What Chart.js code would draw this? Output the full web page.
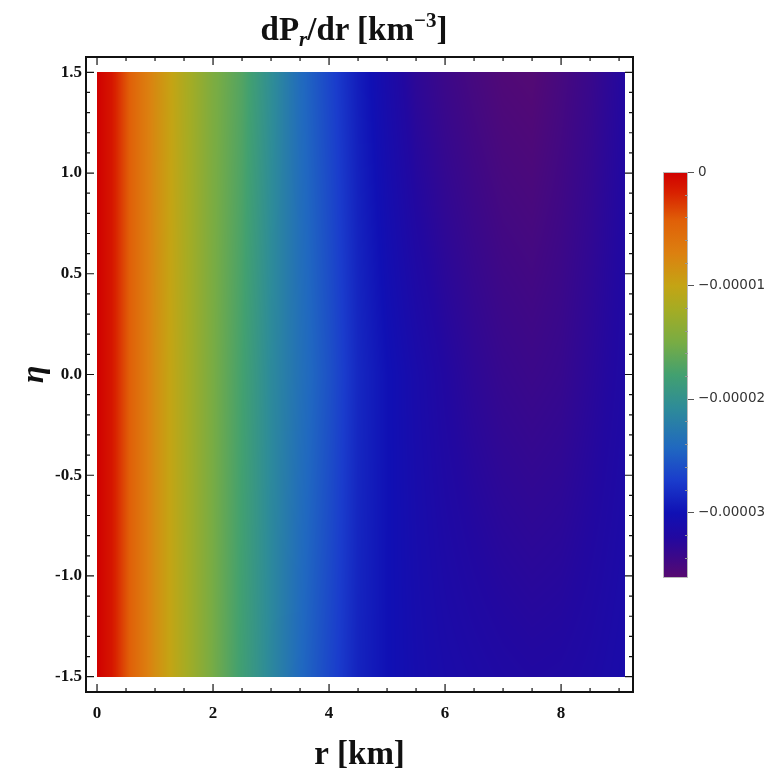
<!DOCTYPE html>
<html>
<head>
<meta charset="utf-8">
<script src="https://cdn.jsdelivr.net/npm/chart.js@4/dist/chart.umd.min.js"></script>
<style>
  html, body { margin: 0; padding: 0; background: #fff; }
  #wrap { position: relative; width: 781px; height: 781px; overflow: hidden; }
  #main { position: absolute; left: 0; top: 0; }
  #bar { position: absolute; left: 655px; top: 160px; }
  #title {
    position: absolute; left: 54px; width: 600px; top: 11px;
    text-align: center; line-height: 40px;
    font: bold 33px 'Liberation Serif', 'Times New Roman', serif; color: #111;
  }
  #title sub { font-size: 21px; font-style: italic; vertical-align: -6px; line-height: 0; }
  #title sup { font-size: 21px; vertical-align: 13px; line-height: 0; }
</style>
</head>
<body>
<div id="wrap">
  <canvas id="main" width="781" height="781"></canvas>
  <canvas id="bar" width="126" height="430"></canvas>
  <div id="title">dP<sub>r</sub>/dr [km<sup>&minus;3</sup>]</div>
</div>
<script>
// ---- data ----
// r samples [km]
const rValues = [0, 0.25, 0.5, 0.75, 1, 1.25, 1.5, 2, 2.5, 3, 3.5, 4, 4.5, 5, 5.5, 6, 6.5, 7, 7.5, 8, 8.5, 9, 9.1];
// eta rows, bottom to top
const etaValues = [-1.5, 0, 1.5];
// dPr/dr [km^-3] along r, one array per eta row
const dPdrEtaBottom = [0, -0.12e-5, -0.37e-5, -0.6e-5, -0.82e-5, -1.0e-5, -1.18e-5, -1.52e-5, -1.82e-5, -2.12e-5, -2.42e-5, -2.65e-5, -2.88e-5, -3.0e-5, -3.08e-5, -3.13e-5, -3.16e-5, -3.19e-5, -3.21e-5, -3.2e-5, -3.17e-5, -3.13e-5, -3.12e-5];
const dPdrEtaMiddle = [0, -0.12e-5, -0.37e-5, -0.6e-5, -0.82e-5, -1.0e-5, -1.17e-5, -1.5e-5, -1.78e-5, -2.1e-5, -2.35e-5, -2.58e-5, -2.85e-5, -3.0e-5, -3.12e-5, -3.22e-5, -3.3e-5, -3.36e-5, -3.39e-5, -3.36e-5, -3.28e-5, -3.2e-5, -3.18e-5];
const dPdrEtaTop = [0, -0.12e-5, -0.37e-5, -0.6e-5, -0.8e-5, -0.97e-5, -1.15e-5, -1.47e-5, -1.7e-5, -2.05e-5, -2.4e-5, -2.66e-5, -2.92e-5, -3.12e-5, -3.3e-5, -3.4e-5, -3.47e-5, -3.53e-5, -3.55e-5, -3.47e-5, -3.38e-5, -3.25e-5, -3.22e-5];
const dPdrRows = [dPdrEtaBottom, dPdrEtaMiddle, dPdrEtaTop];

// tick labels
const xTicks = [0, 2, 4, 6, 8];
const yTicks = [-1.5, -1.0, -0.5, 0.0, 0.5, 1.0, 1.5];
const barTicks = [0, -0.00001, -0.00002, -0.00003];
const barMin = -0.0000358;
const barMax = 0;

// ---- style ----
// rainbow palette, t = 0 at barMin, t = 1 at barMax
const palette = [
  [0.00, [88, 10, 112]],
  [0.05, [60, 8, 136]],
  [0.10, [34, 8, 160]],
  [0.16, [16, 16, 180]],
  [0.24, [26, 60, 204]],
  [0.32, [32, 104, 192]],
  [0.42, [46, 140, 152]],
  [0.50, [66, 160, 112]],
  [0.58, [120, 172, 68]],
  [0.66, [164, 172, 36]],
  [0.72, [196, 164, 20]],
  [0.80, [220, 128, 16]],
  [0.88, [224, 96, 8]],
  [0.95, [216, 32, 0]],
  [1.00, [208, 0, 0]]
];
const serif = "'Liberation Serif', 'Times New Roman', serif";

function colorFor(v) {
  let t = (v - barMin) / (barMax - barMin);
  t = Math.max(0, Math.min(1, t));
  for (let i = 0; i < palette.length - 1; i++) {
    const [t0, c0] = palette[i];
    const [t1, c1] = palette[i + 1];
    if (t <= t1) {
      const f = (t - t0) / (t1 - t0);
      return [0, 1, 2].map(k => Math.round(c0[k] + (c1[k] - c0[k]) * f));
    }
  }
  return palette[palette.length - 1][1];
}

// value at (r, eta) from the sampled rows (linear between samples, for display)
function sampleGrid(r, eta) {
  const along = row => {
    let i = 0;
    while (i < rValues.length - 2 && r > rValues[i + 1]) i++;
    const f = Math.max(0, Math.min(1, (r - rValues[i]) / (rValues[i + 1] - rValues[i])));
    return row[i] + (row[i + 1] - row[i]) * f;
  };
  let j = 0;
  while (j < etaValues.length - 2 && eta > etaValues[j + 1]) j++;
  const g = Math.max(0, Math.min(1, (eta - etaValues[j]) / (etaValues[j + 1] - etaValues[j])));
  const a = along(dPdrRows[j]);
  const b = along(dPdrRows[j + 1]);
  return a + (b - a) * g;
}

// Density plot cells, placed through the chart scales
const heatmapPlugin = {
  id: 'heatmap',
  beforeDatasetsDraw(chart) {
    const { ctx, scales: { x, y } } = chart;
    const x0 = Math.round(x.getPixelForValue(rValues[0]));
    const x1 = Math.round(x.getPixelForValue(rValues[rValues.length - 1]));
    const y0 = Math.round(y.getPixelForValue(etaValues[etaValues.length - 1]));
    const y1 = Math.round(y.getPixelForValue(etaValues[0]));
    const w = x1 - x0, h = y1 - y0;
    const off = document.createElement('canvas');
    off.width = w; off.height = h;
    const octx = off.getContext('2d');
    const img = octx.createImageData(w, h);
    for (let py = 0; py < h; py++) {
      const eta = y.getValueForPixel(y0 + py + 0.5);
      for (let px = 0; px < w; px++) {
        const r = x.getValueForPixel(x0 + px + 0.5);
        const c = colorFor(sampleGrid(r, eta));
        const k = (py * w + px) * 4;
        img.data[k] = c[0]; img.data[k + 1] = c[1]; img.data[k + 2] = c[2]; img.data[k + 3] = 255;
      }
    }
    octx.putImageData(img, 0, 0);
    ctx.drawImage(off, x0, y0);
  }
};

// Mathematica-style frame with inward ticks on all sides
const framePlugin = {
  id: 'frame',
  afterDraw(chart) {
    const { ctx, chartArea: a, scales: { x, y } } = chart;
    ctx.save();
    ctx.strokeStyle = '#111';
    ctx.lineWidth = 1.2;
    for (let v = 0; v <= 9.001; v += 0.5) {
      const px = x.getPixelForValue(v);
      const len = Math.abs(v % 2) < 1e-6 ? 8 : 4;
      ctx.beginPath();
      ctx.moveTo(px, a.bottom); ctx.lineTo(px, a.bottom - len);
      ctx.moveTo(px, a.top); ctx.lineTo(px, a.top + len);
      ctx.stroke();
    }
    for (let i = -15; i <= 15; i++) {
      const py = y.getPixelForValue(i / 10);
      const len = i % 5 === 0 ? 8 : 4;
      ctx.beginPath();
      ctx.moveTo(a.left, py); ctx.lineTo(a.left + len, py);
      ctx.moveTo(a.right, py); ctx.lineTo(a.right - len, py);
      ctx.stroke();
    }
    ctx.lineWidth = 2;
    ctx.strokeRect(a.left, a.top, a.right - a.left, a.bottom - a.top);
    ctx.restore();
  }
};

new Chart(document.getElementById('main'), {
  type: 'scatter',
  data: { datasets: [{ data: [] }] },
  options: {
    responsive: false,
    animation: false,
    layout: { padding: { top: 57, right: 148, bottom: 0, left: 0 } },
    plugins: { legend: { display: false }, tooltip: { enabled: false } },
    scales: {
      x: {
        type: 'linear',
        min: -0.19,
        max: 9.24,
        afterBuildTicks: scale => { scale.ticks = xTicks.map(v => ({ value: v })); },
        afterFit: scale => { scale.height = 89; },
        grid: { display: false, drawTicks: false },
        border: { display: false },
        ticks: { color: '#111', padding: 11, maxRotation: 0, font: { family: serif, size: 17, weight: 'bold' } },
        title: { display: true, text: 'r [km]', color: '#111', padding: { top: 0, bottom: 6 }, font: { family: serif, size: 33, weight: 'bold' } }
      },
      y: {
        type: 'linear',
        min: -1.576,
        max: 1.576,
        afterBuildTicks: scale => { scale.ticks = yTicks.map(v => ({ value: v })); },
        afterFit: scale => { scale.width = 86; },
        grid: { display: false, drawTicks: false },
        border: { display: false },
        ticks: { color: '#111', padding: 4, font: { family: serif, size: 17, weight: 'bold' }, callback: v => v.toFixed(1) },
        title: { display: true, text: 'η', color: '#111', padding: { top: 16, bottom: 0 }, font: { family: serif, size: 32, weight: 'bold', style: 'italic' } }
      }
    }
  },
  plugins: [heatmapPlugin, framePlugin]
});

// Colour bar: gradient placed through its own value scale
const colorbarPlugin = {
  id: 'colorbar',
  beforeDatasetsDraw(chart) {
    const { ctx, chartArea: a, scales: { y } } = chart;
    const grad = ctx.createLinearGradient(0, a.bottom, 0, a.top);
    palette.forEach(([t, c]) => {
      const v = barMin + (barMax - barMin) * t;
      const pos = (a.bottom - y.getPixelForValue(v)) / (a.bottom - a.top);
      grad.addColorStop(Math.max(0, Math.min(1, pos)), `rgb(${c[0]},${c[1]},${c[2]})`);
    });
    ctx.save();
    ctx.fillStyle = grad;
    ctx.fillRect(a.left, a.top, a.right - a.left, a.bottom - a.top);
    ctx.strokeStyle = '#bbb';
    ctx.lineWidth = 1;
    ctx.strokeRect(a.left + 0.5, a.top + 0.5, a.right - a.left - 1, a.bottom - a.top - 1);
    for (let i = 0; i >= -17; i--) {
      const py = Math.round(y.getPixelForValue(i * 0.2e-5)) + 0.5;
      ctx.beginPath();
      if (i % 5 === 0) {
        ctx.strokeStyle = '#555';
        ctx.moveTo(a.right, py); ctx.lineTo(a.right + 6, py);
      } else {
        ctx.strokeStyle = '#999';
        ctx.moveTo(a.right, py); ctx.lineTo(a.right - 3, py);
      }
      ctx.stroke();
    }
    ctx.restore();
  }
};

new Chart(document.getElementById('bar'), {
  type: 'scatter',
  data: { datasets: [{ data: [] }] },
  options: {
    responsive: false,
    animation: false,
    layout: { padding: { top: 12, bottom: 12, left: 8, right: 0 } },
    plugins: { legend: { display: false }, tooltip: { enabled: false } },
    scales: {
      x: { display: false, min: 0, max: 1 },
      y: {
        position: 'right',
        min: barMin,
        max: barMax,
        afterBuildTicks: scale => { scale.ticks = barTicks.map(v => ({ value: v })); },
        afterFit: scale => { scale.width = 93; scale.paddingTop = 0; scale.paddingBottom = 0; },
        grid: { display: false, drawTicks: false },
        border: { display: false },
        ticks: {
          color: '#333',
          padding: 10,
          font: { family: 'DejaVu Sans', size: 13.5 },
          callback: v => v === 0 ? '0' : '\u2212' + Math.abs(v).toFixed(5)
        }
      }
    }
  },
  plugins: [colorbarPlugin]
});
</script>
</body>
</html>
